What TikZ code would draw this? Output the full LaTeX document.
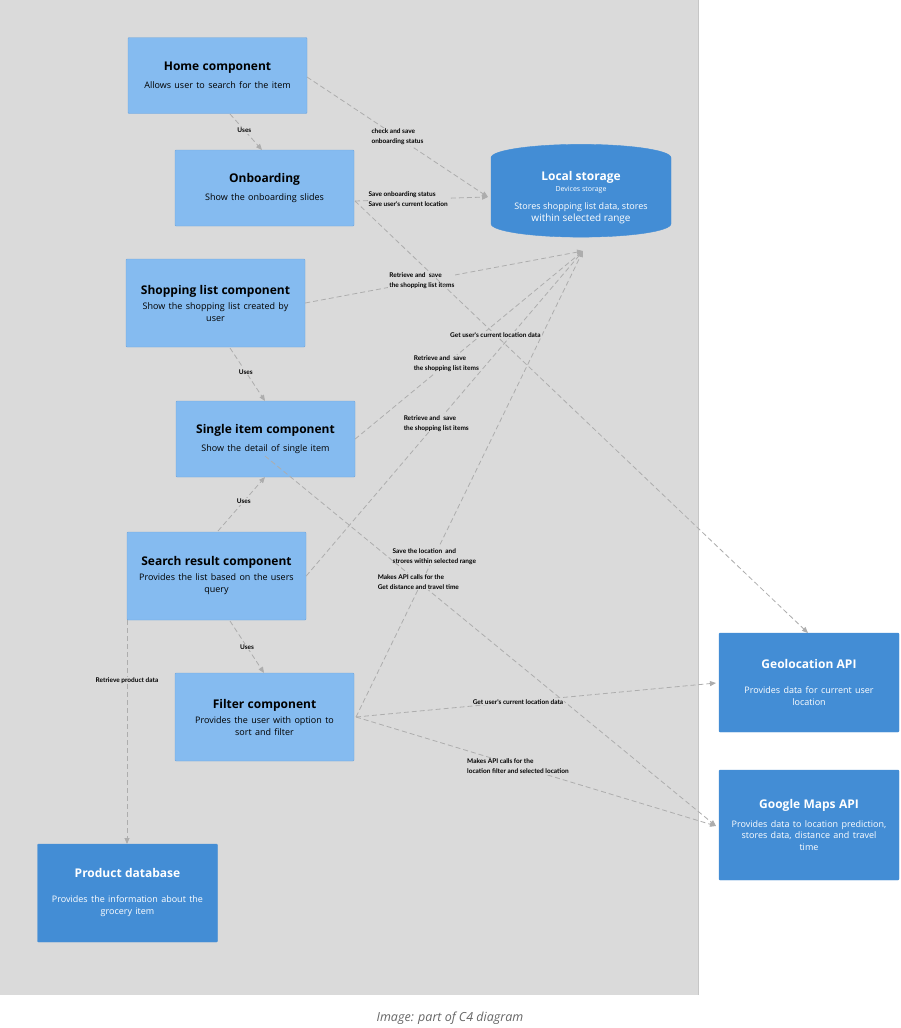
\documentclass[tikz,border=0pt]{standalone}
\usepackage{fontspec}
\setmainfont{Open Sans}
\newfontfamily\lblfont{Lato}
\usetikzlibrary{arrows.meta, shapes.geometric}
\definecolor{bgGray}{HTML}{DADADA}
\definecolor{compBlue}{HTML}{85BBF0}
\definecolor{compEdge}{HTML}{6FA5DB}
\definecolor{extBlue}{HTML}{438DD5}
\definecolor{relGray}{HTML}{ADADAD}
\newcommand{\boxttl}[1]{{\bfseries\fontsize{12}{14}\selectfont #1}}

\begin{document}
\begin{tikzpicture}[x=1pt,y=-1pt,
  comp/.style={draw=compEdge, fill=compBlue, rounded corners=1pt, minimum width=179pt, align=center, text width=170pt, inner sep=0pt},
  ext/.style={draw=extBlue, fill=extBlue, text=white, rounded corners=1pt, minimum width=180pt, align=center, text width=170pt, inner sep=0pt},
  rel/.style={draw=relGray, dashed, dash pattern=on 5pt off 3pt, line width=0.8pt, -{Triangle[length=6pt,width=5pt]}},
  lbl/.style={fill=bgGray, inner sep=1pt, align=left, font=\lblfont\bfseries\fontsize{6.5}{10}\selectfont}]
\useasboundingbox (0,0) rectangle (900,1028);
\fill[white] (0,0) rectangle (900,1028);
\fill[bgGray] (0,0) rectangle (698,995);
\draw[relGray!70] (698,0) -- (698,995);

% Components
\node[comp, minimum height=76pt] (home) at (217.5,75.5) {\boxttl{Home component}\\[6pt]\fontsize{9}{11}\selectfont Allows user to search for the item};
\node[comp, minimum height=76pt] (onb) at (264.5,188) {\boxttl{Onboarding}\\[6pt]\fontsize{9}{11}\selectfont Show the onboarding slides};
\node[comp, minimum height=88pt] (shop) at (215.5,303) {\boxttl{Shopping list component}\\[4pt]\fontsize{9}{11}\selectfont Show the shopping list created by\\ user};
\node[comp, minimum height=76pt] (single) at (265.5,439) {\boxttl{Single item component}\\[6pt]\fontsize{9}{11}\selectfont Show the detail of single item};
\node[comp, minimum height=88pt] (search) at (216.5,576) {\boxttl{Search result component}\\[4pt]\fontsize{9}{11}\selectfont Provides the list based on the users\\ query};
\node[comp, minimum height=88pt] (filter) at (264.5,717) {\boxttl{Filter component}\\[4pt]\fontsize{9}{11}\selectfont Provides the user with option to\\ sort and filter};

% External systems
\node[ext, minimum height=98pt] (prod) at (127.5,893) {\boxttl{Product database}\\[14pt]\fontsize{9}{11}\selectfont Provides the information about the\\ grocery item};
\node[ext, minimum height=99pt] (geo) at (809,682.5) {\boxttl{Geolocation API}\\[14pt]\fontsize{9}{11}\selectfont Provides data for current user\\ location};
\node[ext, minimum height=110pt] (gmaps) at (809,825) {\boxttl{Google Maps API}\\[8pt]\fontsize{9}{11}\selectfont Provides data to location prediction,\\ stores data, distance and travel\\ time};
\node[cylinder, shape border rotate=90, aspect=0.2, draw=extBlue, fill=extBlue, text=white, minimum width=180pt, minimum height=92pt, align=center, inner sep=0pt] (local) at (581,197.5) {\boxttl{Local storage}\\[-1pt]\fontsize{7}{9}\selectfont Devices storage\\[6pt]\fontsize{9}{11}\selectfont Stores shopping list data, stores\\ within selected range};

\coordinate (lsl) at (488,197);
\coordinate (lsb) at (583,251);
\coordinate (onbR) at (355,201);
\coordinate (filR) at (356,717);

% Uses
\draw[rel] (230,114) -- node[lbl, pos=0.45] {Uses} (262,150);
\draw[rel] (230,348) -- node[lbl, pos=0.45] {Uses} (265,401);
\draw[rel] (218,531) -- node[lbl, pos=0.55] {Uses} (265,477);
\draw[rel] (230,621) -- node[lbl, pos=0.5] {Uses} (264,673);
\draw[rel] (127,620) -- node[lbl, pos=0.27] {Retrieve product data} (127,844);

% Local storage
\draw[rel] (307,77) -- node[lbl, pos=0.5] {check and save\\onboarding status} (lsl);
\draw[rel] (onbR) -- node[lbl, pos=0.4] {Save onboarding status\\Save user's current location} (lsl);
\draw[rel] (shop.east) -- node[lbl, pos=0.42] {Retrieve and \ save\\the shopping list items} (lsb);
\draw[rel] (single.east) -- node[lbl, pos=0.4] {Retrieve and \ save\\the shopping list items} (lsb);
\draw[rel] (search.east) -- node[lbl, pos=0.47] {Retrieve and \ save\\the shopping list items} (lsb);
\draw[rel] (filR) -- node[lbl, pos=0.345] {Save the location \ and\\strores within selected range} (lsb);

% External APIs
\draw[rel] (onbR) -- node[lbl, pos=0.31] {Get user's current location data} (808,633);
\draw[rel] (265,456) -- node[lbl, pos=0.34] {Makes API calls for the\\Get distance and travel time} (716,826);
\draw[rel] (filR) -- node[lbl, pos=0.45] {Get user's current location data} (716,683);
\draw[rel] (filR) -- node[lbl, pos=0.45] {Makes API calls for the\\location filter and selected location} (716,826);

% Caption
\node[font=\itshape\fontsize{12.5}{15}\selectfont, text=black!60] (cap) at (450,1018) {Image: part of C4 diagram};
\end{tikzpicture}
\end{document}
